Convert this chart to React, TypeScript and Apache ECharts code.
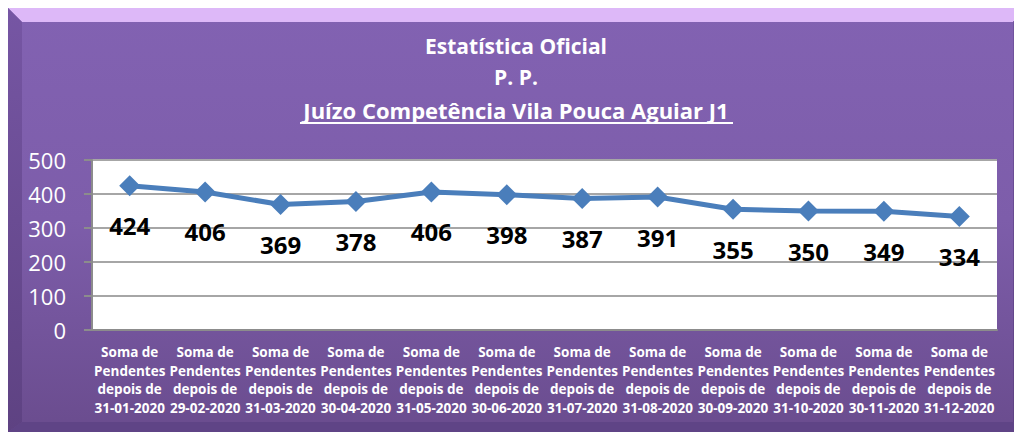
import React, { useEffect, useRef } from "react";
import * as echarts from "echarts";

const categories = [
  "Soma de\nPendentes\ndepois de\n31-01-2020",
  "Soma de\nPendentes\ndepois de\n29-02-2020",
  "Soma de\nPendentes\ndepois de\n31-03-2020",
  "Soma de\nPendentes\ndepois de\n30-04-2020",
  "Soma de\nPendentes\ndepois de\n31-05-2020",
  "Soma de\nPendentes\ndepois de\n30-06-2020",
  "Soma de\nPendentes\ndepois de\n31-07-2020",
  "Soma de\nPendentes\ndepois de\n31-08-2020",
  "Soma de\nPendentes\ndepois de\n30-09-2020",
  "Soma de\nPendentes\ndepois de\n31-10-2020",
  "Soma de\nPendentes\ndepois de\n30-11-2020",
  "Soma de\nPendentes\ndepois de\n31-12-2020",
];
const values = [424, 406, 369, 378, 406, 398, 387, 391, 355, 350, 349, 334];
const titleLines = ["Estatística Oficial", "P. P.", "Juízo Competência Vila Pouca Aguiar J1"];

const FONT = "'Open Sans', sans-serif";

export default function App() {
  const ref = useRef<HTMLDivElement>(null);
  useEffect(() => {
    if (!ref.current) return;
    const chart = echarts.init(ref.current, undefined, { renderer: "svg" });
    const W = 1014;
    const H = 424;
    chart.setOption({
      animation: false,
      backgroundColor: new echarts.graphic.LinearGradient(0, 0, 0, 1, [
        { offset: 0, color: "#8262B2" },
        { offset: 0.5, color: "#7D5DAA" },
        { offset: 1, color: "#6A4C8E" },
      ]),
      graphic: [
        {
          type: "polygon",
          shape: { points: [[0, 0], [W, 0], [W - 9, 14], [14, 14]] },
          style: { fill: "#DDB8F8" },
          z: 1,
        },
        {
          type: "polygon",
          shape: { points: [[0, 0], [14, 14], [14, H - 10], [0, H]] },
          style: {
            fill: new echarts.graphic.LinearGradient(0, 0, 0, 1, [
              { offset: 0, color: "#7656A4" },
              { offset: 1, color: "#5E4282" },
            ]),
          },
          z: 1,
        },
        {
          type: "polygon",
          shape: { points: [[W, 0], [W, H], [W - 9, H - 10], [W - 9, 14]] },
          style: {
            fill: new echarts.graphic.LinearGradient(0, 0, 0, 1, [
              { offset: 0, color: "#7254A0" },
              { offset: 1, color: "#5E4282" },
            ]),
          },
          z: 1,
        },
        {
          type: "polygon",
          shape: { points: [[0, H], [14, H - 10], [W - 9, H - 10], [W, H]] },
          style: { fill: "#5F4486" },
          z: 1,
        },
        {
          type: "text",
          x: 508,
          y: 38,
          style: {
            text: titleLines[0],
            fill: "#FFFFFF",
            font: `bold 21px ${FONT}`,
            textAlign: "center",
            textVerticalAlign: "middle",
          },
          z: 5,
        },
        {
          type: "text",
          x: 508,
          y: 69,
          style: {
            text: titleLines[1],
            fill: "#FFFFFF",
            font: `bold 21px ${FONT}`,
            textAlign: "center",
            textVerticalAlign: "middle",
          },
          z: 5,
        },
        {
          type: "text",
          x: 508,
          y: 102,
          style: {
            text: titleLines[2],
            fill: "#FFFFFF",
            font: `bold 22px ${FONT}`,
            textAlign: "center",
            textVerticalAlign: "middle",
          },
          z: 5,
        },
        {
          type: "line",
          shape: { x1: 292, y1: 115, x2: 725, y2: 115 },
          style: { stroke: "#FFFFFF", lineWidth: 2 },
          z: 5,
        },
      ],
      grid: {
        left: 84,
        top: 152,
        width: 905,
        height: 170,
        show: true,
        backgroundColor: "#FFFFFF",
        borderWidth: 0,
      },
      xAxis: {
        type: "category",
        data: categories,
        boundaryGap: true,
        axisTick: { show: false },
        axisLine: { show: true, lineStyle: { color: "#8C8C8C", width: 2 } },
        axisLabel: {
          interval: 0,
          color: "#FFFFFF",
          fontFamily: FONT,
          fontWeight: "bold",
          fontSize: 13.5,
          lineHeight: 18.5,
          margin: 13,
          overflow: "none",
        },
      },
      yAxis: {
        type: "value",
        min: 0,
        max: 500,
        interval: 100,
        axisLine: { show: true, lineStyle: { color: "#8C8C8C", width: 2 } },
        axisTick: { show: true, length: 8, lineStyle: { color: "#8C8C8C", width: 2 } },
        splitLine: { show: true, lineStyle: { color: "#A6A6A6", width: 2 } },
        axisLabel: {
          color: "#FFFFFF",
          fontFamily: FONT,
          fontSize: 22,
          margin: 26,
        },
      },
      series: [
        {
          type: "line",
          data: values,
          symbol: "diamond",
          symbolSize: 21,
          lineStyle: { color: "#4A7EBB", width: 5 },
          itemStyle: { color: "#4A7EBB" },
          label: {
            show: true,
            position: "inside",
            offset: [0, 40],
            color: "#000000",
            fontFamily: FONT,
            fontWeight: "bold",
            fontSize: 24,
          },
          z: 3,
        },
      ],
    });
    return () => chart.dispose();
  }, []);
  return <div ref={ref} style={{ width: 1014, height: 424 }} />;
}
